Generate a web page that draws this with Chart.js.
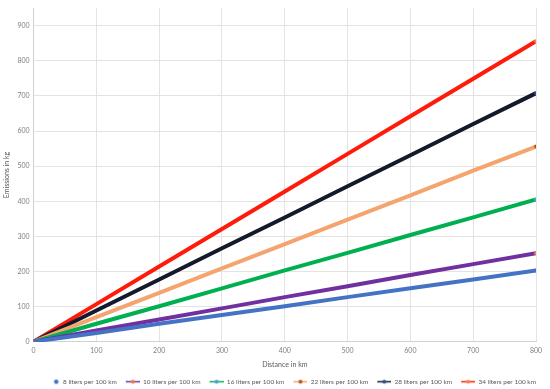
<!DOCTYPE html>
<html>
<head>
<meta charset="utf-8">
<script src="https://cdn.jsdelivr.net/npm/chart.js@4"></script>
<style>
  html, body { margin: 0; padding: 0; background: #fff; }
  #wrap { width: 550px; height: 389px; }
</style>
</head>
<body>
<div id="wrap"><canvas id="myChart"></canvas></div>
<script>
// distance in km
var distances = [0, 100, 200, 300, 400, 500, 600, 700, 800];

// emissions in kg
var liters8 = [0, 25, 51, 76, 101, 127, 152, 177, 203];
var liters10 = [0, 32, 63, 95, 127, 158, 190, 221, 252];
var liters16 = [0, 51, 101, 152, 203, 253, 304, 354, 405];
var liters22 = [0, 70, 139, 209, 278, 348, 417, 487, 556];
var liters28 = [0, 89, 177, 266, 354, 443, 531, 620, 708];
var liters34 = [0, 107, 214, 321, 428, 535, 642, 749, 856];

var seriesNames = ["8 liters per 100 km", "10 liters per 100 km", "16 liters per 100 km",
    "22 liters per 100 km", "28 liters per 100 km", "34 liters per 100 km"];
var lineColors = ["#4472c4", "#7030a0", "#00b050", "#f4a46e", "#141a2c", "#ff1a0a"];
var markColors = ["#4472c4", "#ed7d31", "#4aa0d8", "#b05a1e", "#2f4f8a", "#ff7a50"];

function pts(ys) {
    return distances.map(function (d, i) { return { x: d, y: ys[i] }; });
}

// legend icons: blank space on the left, then a line with a dot, or only a dot
function icon(lineCol, dotCol, onlyDot) {
    var c = document.createElement("canvas");
    c.width = 23;
    c.height = 7;
    var g = c.getContext("2d");
    if (onlyDot) {
        g.fillStyle = dotCol;
        g.beginPath();
        g.arc(19.5, 3.5, 2.2, 0, Math.PI * 2);
        g.fill();
        return c;
    }
    g.strokeStyle = lineCol;
    g.lineWidth = 1.5;
    g.beginPath();
    g.moveTo(9, 3.5);
    g.lineTo(23, 3.5);
    g.stroke();
    g.fillStyle = dotCol;
    g.beginPath();
    g.arc(16, 3.5, 2, 0, Math.PI * 2);
    g.fill();
    return c;
}

var allData = [liters8, liters10, liters16, liters22, liters28, liters34];
var datasets = allData.map(function (ys, i) {
    return {
        label: seriesNames[i],
        data: pts(ys),
        borderColor: lineColors[i],
        backgroundColor: lineColors[i],
        borderWidth: 4,
        pointRadius: function (ctx) { return ctx.dataIndex === distances.length - 1 ? 2 : 0; },
        pointBackgroundColor: markColors[i],
        pointBorderWidth: 0,
        tension: 0
    };
});

var tickFont = { family: "Lato, 'Liberation Sans', sans-serif", size: 7 };
var legendFont = { family: "Lato, 'Liberation Sans', sans-serif", size: 6.5 };

new Chart("myChart", {
    type: "line",
    data: { datasets: datasets },
    options: {
        responsive: true,
        maintainAspectRatio: false,
        animation: false,
        layout: { padding: { left: 1, right: 14, top: 8, bottom: -6 } },
        plugins: {
            legend: {
                position: "bottom",
                align: "end",
                labels: {
                    usePointStyle: true,
                    pointStyleWidth: 23,
                    boxHeight: 7,
                    padding: 0,
                    color: "#595959",
                    font: legendFont,
                    generateLabels: function (chart) {
                        var items = Chart.defaults.plugins.legend.labels.generateLabels(chart);
                        items.forEach(function (it, i) {
                            it.pointStyle = icon(lineColors[i], markColors[i], i === 0);
                        });
                        return items;
                    }
                }
            },
            tooltip: { enabled: false }
        },
        scales: {
            x: {
                type: "linear",
                min: 0,
                max: 800,
                ticks: { stepSize: 100, color: "#7f7f7f", font: tickFont, maxRotation: 0, padding: 5 },
                grid: { color: "#e3e3e3", tickLength: 0 },
                border: { color: "#d0d0d0" },
                title: { display: true, text: "Distance in km", color: "#595959", font: tickFont, padding: { top: 0, bottom: 10 } }
            },
            y: {
                min: 0,
                max: 950,
                ticks: { stepSize: 100, color: "#7f7f7f", font: tickFont, padding: 4 },
                afterBuildTicks: function (axis) {
                    axis.ticks = axis.ticks.filter(function (t) { return t.value % 100 === 0; });
                },
                grid: { color: "#e3e3e3", tickLength: 0 },
                border: { color: "#d0d0d0" },
                title: { display: true, text: "Emissions in kg", color: "#595959", font: tickFont, padding: 2 }
            }
        }
    }
});
</script>
</body>
</html>
